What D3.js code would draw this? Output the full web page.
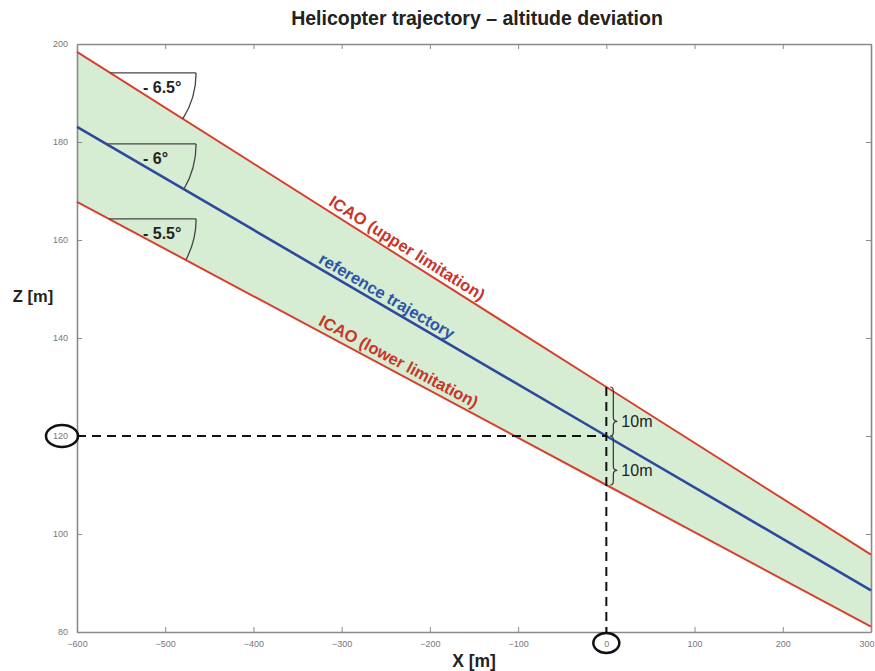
<!DOCTYPE html>
<html>
<head>
<meta charset="utf-8">
<script src="https://cdn.jsdelivr.net/npm/d3@7"></script>
<style>
  body { margin: 0; background: #fff; }
  text { font-family: "Liberation Sans", Arial, sans-serif; }
</style>
</head>
<body>
<div id="graphic" width="875" height="671"></div>
<script>
// data
let xPts = [-600, 0, 300];
let upperZ = [198.4, 130, 95.8];   // ICAO upper, -6.5 deg
let refZ = [183.1, 120, 88.5];     // reference, -6 deg
let lowerZ = [167.8, 110, 81.1];   // ICAO lower, -5.5 deg
let xTicks = [-600, -500, -400, -300, -200, -100, 0, 100, 200, 300];
let yTicks = [80, 100, 120, 140, 160, 180, 200];
let angleLabels = ["- 6.5°", "- 6°", "- 5.5°"];
let angleZ = [194.1, 179.6, 164.3];
let marginLabel = "10m";

let margin = {top: 44, right: 4, bottom: 39, left: 77};
let width = 875 - margin.left - margin.right;
let height = 671 - margin.top - margin.bottom;

let svg = d3.select("#graphic")
  .append("svg")
    .attr("width", 875)
    .attr("height", 671)
  .append("g")
    .attr("transform", "translate(" + margin.left + "," + margin.top + ")");

let x = d3.scaleLinear().domain([-600, 300]).range([0, width]);
let y = d3.scaleLinear().domain([80, 200]).range([height, 0]);

let lineData = zs => xPts.map((d, i) => ({x: d, z: zs[i]}));
let line = d3.line().x(d => x(d.x)).y(d => y(d.z));

// green band between the limits
let band = xPts.map((d, i) => ({x: d, hi: upperZ[i], lo: lowerZ[i]}));
svg.append("path")
  .datum(band)
  .attr("fill", "#d7edd3")
  .attr("d", d3.area().x(d => x(d.x)).y0(d => y(d.lo)).y1(d => y(d.hi)));

// axes box with inward ticks (matlab style)
let axisCol = "#8a8a8a";
function styleAxis(g) {
  g.select(".domain").attr("stroke", axisCol).attr("stroke-width", 1.6);
  g.selectAll(".tick line").attr("stroke", axisCol);
  g.selectAll("text").attr("fill", "#777").style("font-size", "9px");
}
let bottom = svg.append("g")
  .attr("transform", "translate(0," + height + ")")
  .call(d3.axisBottom(x).tickValues(xTicks).tickSizeInner(-5).tickSizeOuter(0).tickPadding(9))
  .call(styleAxis);
// last label sits at the window edge, keep it inside
bottom.selectAll(".tick text").filter(d => d === 300).attr("text-anchor", "end").attr("dx", 3);
svg.append("g")
  .call(d3.axisLeft(y).tickValues(yTicks).tickSizeInner(-5).tickSizeOuter(0).tickPadding(9))
  .call(styleAxis);
svg.append("g")
  .call(d3.axisTop(x).tickValues(xTicks).tickSizeInner(-5).tickSizeOuter(0).tickFormat(""))
  .call(styleAxis);
svg.append("g")
  .attr("transform", "translate(" + width + ",0)")
  .call(d3.axisRight(y).tickValues(yTicks).tickSizeInner(-5).tickSizeOuter(0).tickFormat(""))
  .call(styleAxis);

// trajectory lines
svg.append("path").datum(lineData(upperZ))
  .attr("fill", "none").attr("stroke", "#d6402f").attr("stroke-width", 2).attr("d", line);
svg.append("path").datum(lineData(lowerZ))
  .attr("fill", "none").attr("stroke", "#d6402f").attr("stroke-width", 2).attr("d", line);
svg.append("path").datum(lineData(refZ))
  .attr("fill", "none").attr("stroke", "#2b4a9b").attr("stroke-width", 2.6).attr("d", line);

// dashed guides at (0, 120)
svg.append("line")
  .attr("x1", x(-600)).attr("x2", x(0)).attr("y1", y(120)).attr("y2", y(120))
  .attr("stroke", "#111").attr("stroke-width", 2).attr("stroke-dasharray", "9,6");
svg.append("line")
  .attr("x1", x(0)).attr("x2", x(0)).attr("y1", y(upperZ[1])).attr("y2", y(80))
  .attr("stroke", "#111").attr("stroke-width", 2).attr("stroke-dasharray", "9,6");

// circles around 120 and 0 tick labels
svg.append("ellipse")
  .attr("cx", -15).attr("cy", y(120)).attr("rx", 16).attr("ry", 11)
  .attr("fill", "none").attr("stroke", "#111").attr("stroke-width", 2.5);
svg.append("ellipse")
  .attr("cx", x(0)).attr("cy", height + 11).attr("rx", 13).attr("ry", 10)
  .attr("fill", "none").attr("stroke", "#111").attr("stroke-width", 2.5);

// braces with 10m, tip sits a bit below the middle
function brace(a, b, m) {
  let bx = x(0) + 7;
  return "M" + (bx - 3) + "," + a + " Q" + bx + "," + a + " " + bx + "," + (a + 4) +
    " L" + bx + "," + (m - 4) + " Q" + bx + "," + m + " " + (bx + 4) + "," + m +
    " Q" + bx + "," + m + " " + bx + "," + (m + 4) +
    " L" + bx + "," + (b - 4) + " Q" + bx + "," + b + " " + (bx - 3) + "," + b;
}
[[upperZ[1], refZ[1]], [refZ[1], lowerZ[1]]].forEach(function(p) {
  let a = y(p[0]), b = y(p[1]);
  let m = a + 0.7 * (b - a);
  svg.append("path").attr("d", brace(a, b, m))
    .attr("fill", "none").attr("stroke", "#333").attr("stroke-width", 1.2);
  svg.append("text")
    .attr("x", x(0) + 15).attr("y", m + 6)
    .style("font-size", "16px").attr("fill", "#222")
    .text(marginLabel);
});

// angle markers
let lines = [upperZ, refZ, lowerZ];
let hEnd = x(-465);
lines.forEach(function(zs, i) {
  let inv = d3.scaleLinear().domain([zs[0], zs[1]]).range([xPts[0], xPts[1]]);
  let cx = x(inv(angleZ[i])), cy = y(angleZ[i]);
  let r = hEnd - cx;
  let ang = Math.atan2(y(zs[2]) - y(zs[0]), x(xPts[2]) - x(xPts[0]));
  svg.append("line")
    .attr("x1", cx).attr("x2", hEnd).attr("y1", cy).attr("y2", cy)
    .attr("stroke", "#444").attr("stroke-width", 1.3);
  svg.append("path")
    .attr("d", "M" + hEnd + "," + cy + " A" + r + "," + r + " 0 0 1 " +
      (cx + r * Math.cos(ang)) + "," + (cy + r * Math.sin(ang)))
    .attr("fill", "none").attr("stroke", "#444").attr("stroke-width", 1.3);
  svg.append("text")
    .attr("x", 66).attr("y", cy + 20)
    .style("font-size", "16px").style("font-weight", "bold").attr("fill", "#222")
    .text(angleLabels[i]);
});

// labels along the lines
function lineLabel(zs, px, off, txt, col) {
  let ang = Math.atan2(y(zs[2]) - y(zs[0]), x(xPts[2]) - x(xPts[0])) * 180 / Math.PI;
  let inv = d3.scaleLinear().domain([x(xPts[0]), x(xPts[2])]).range([y(zs[0]), y(zs[2])]);
  svg.append("text")
    .attr("transform", "translate(" + px + "," + (inv(px) - off) + ") rotate(" + ang + ")")
    .attr("text-anchor", "middle")
    .style("font-size", "16.5px").style("font-weight", "bold").attr("fill", col)
    .text(txt);
}
lineLabel(upperZ, 327, 6, "ICAO (upper limitation)", "#c8352a");
lineLabel(refZ, 307, 5, "reference trajectory", "#2d55a8");
lineLabel(lowerZ, 319, 6, "ICAO (lower limitation)", "#c8352a");

// title and axis labels
svg.append("text")
  .attr("x", 400).attr("y", -19).attr("text-anchor", "middle")
  .style("font-size", "19.5px").style("font-weight", "bold").attr("fill", "#222")
  .text("Helicopter trajectory \u2013 altitude deviation");
svg.append("text")
  .attr("x", -44).attr("y", 258).attr("text-anchor", "middle")
  .style("font-size", "16.5px").style("font-weight", "bold").attr("fill", "#222")
  .text("Z [m]");
svg.append("text")
  .attr("x", 397).attr("y", 623).attr("text-anchor", "middle")
  .style("font-size", "17.5px").style("font-weight", "bold").attr("fill", "#222")
  .text("X [m]");
</script>
</body>
</html>
